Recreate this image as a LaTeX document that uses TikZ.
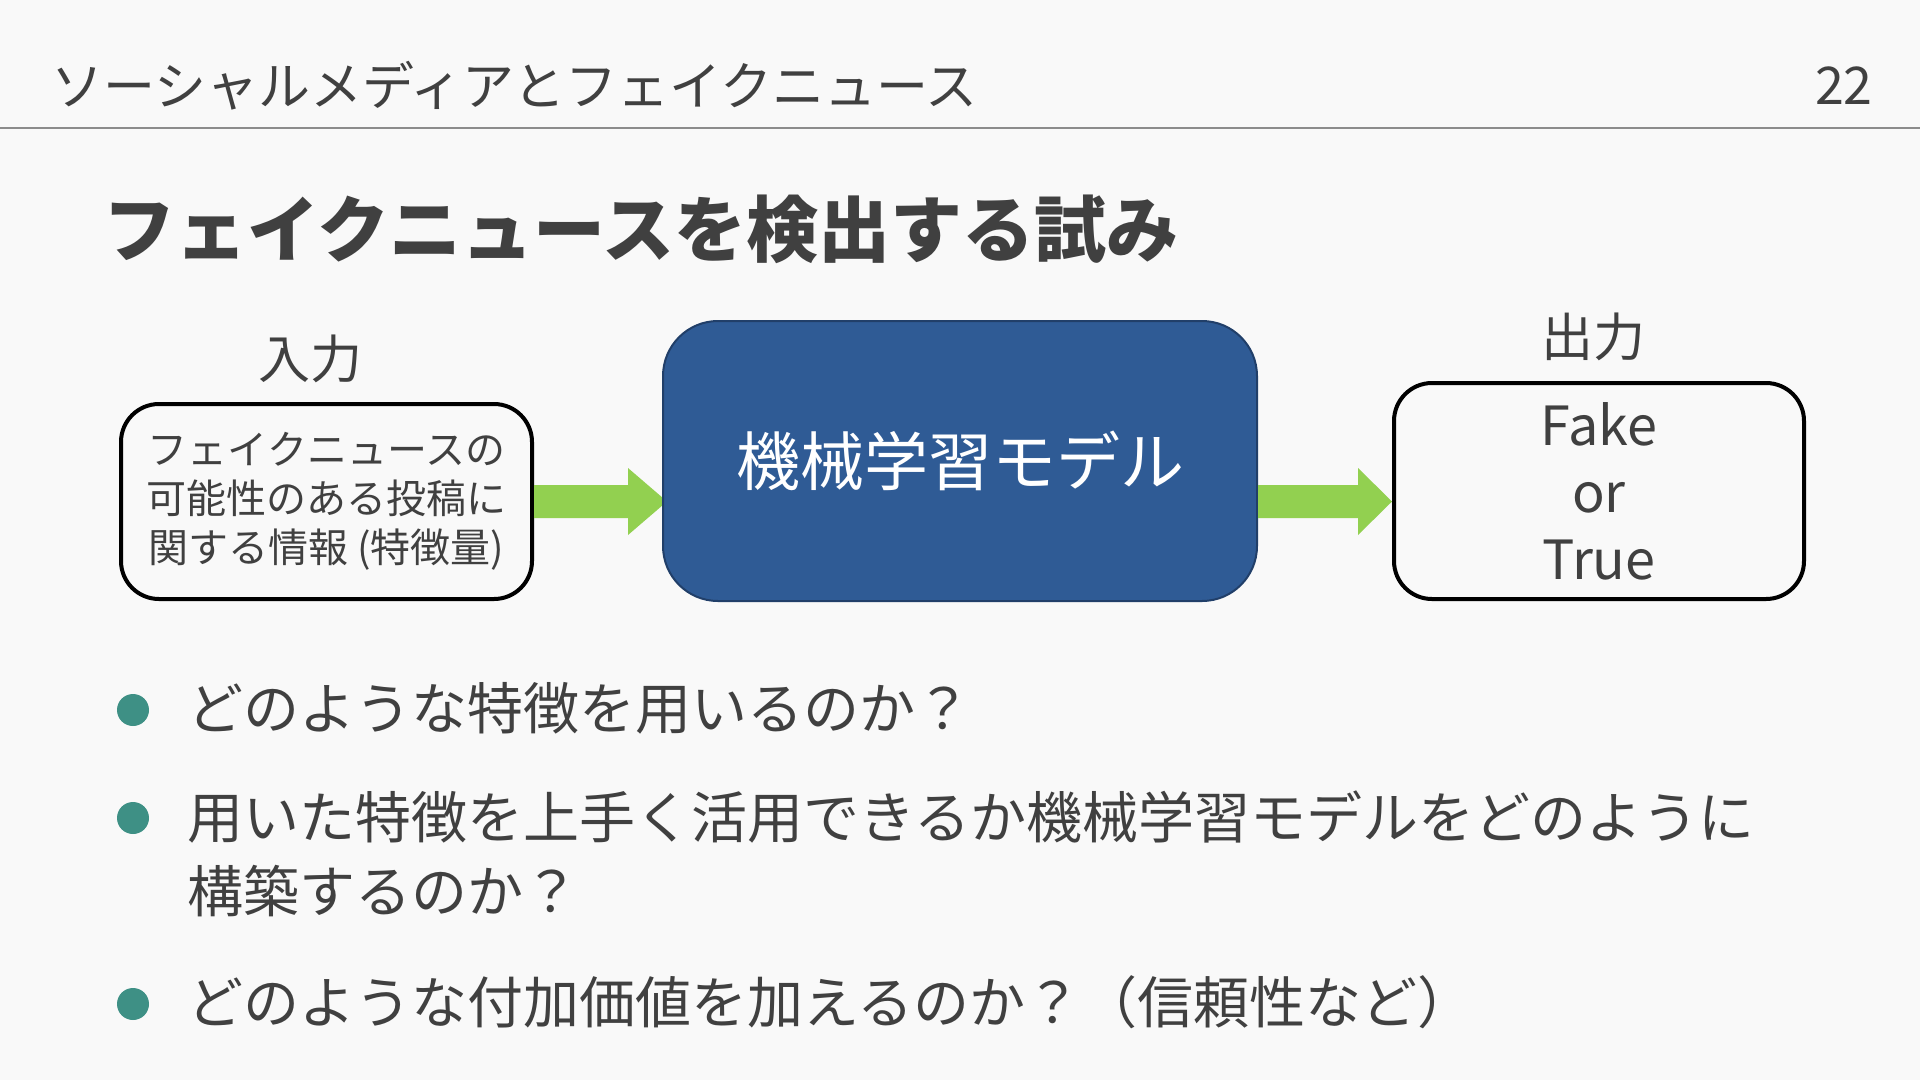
\documentclass[tikz,border=0pt]{standalone}
\usepackage{fontspec}
\setmainfont{Noto Sans CJK JP}
\usepackage{tikz}
\usetikzlibrary{calc}
\definecolor{bgcol}{HTML}{F9F9F9}
\definecolor{textgray}{HTML}{404040}
\definecolor{rulegray}{HTML}{8C8C8C}
\definecolor{modelblue}{HTML}{2F5B95}
\definecolor{modeledge}{HTML}{213F69}
\definecolor{flowgreen}{HTML}{92D050}
\definecolor{dotteal}{HTML}{3E9085}
\tikzset{
    header text/.style={anchor=west, inner sep=0pt, text=textgray, font=\fontsize{52pt}{62pt}\selectfont},
    title text/.style={anchor=west, inner sep=0pt, text=textgray, font=\bfseries\fontsize{72pt}{86pt}\selectfont},
    io label/.style={inner sep=0pt, text=textgray, font=\fontsize{52pt}{62pt}\selectfont},
    io box/.style={rectangle, draw=black, line width=4pt, rounded corners=38pt, inner sep=0pt, text=textgray, align=center},
    model box/.style={rectangle, draw=modeledge, fill=modelblue, line width=2pt, rounded corners=55pt, text=white, font=\fontsize{64pt}{76pt}\selectfont},
    flow/.style={fill=flowgreen},
    bullet dot/.style={circle, fill=dotteal, minimum size=32pt, inner sep=0pt},
    bullet text/.style={anchor=west, inner sep=0pt, align=left, text=textgray, font=\fontsize{56pt}{74pt}\selectfont}
}
\begin{document}
\begin{tikzpicture}[x=1pt, y=-1pt]
  \fill[bgcol] (0,0) rectangle (1920,1080);
  \useasboundingbox (0,0) rectangle (1920,1080);
  \node[header text] (head) at (51, 86) {ソーシャルメディアとフェイクニュース};
  \node[header text, anchor=east] (page) at (1873, 86) {22};
  \draw[rulegray, line width=2pt] (0,128) -- (1920,128);
  \node[title text] (title) at (103, 229) {フェイクニュースを検出する試み};
  \node[io label] (inlabel) at (310, 359) {入力};
  \node[io label] (outlabel) at (1593, 337) {出力};
  \node[io box, minimum width=411pt, minimum height=195pt, font=\fontsize{40pt}{49pt}\selectfont] (inbox) at (326.5, 501.5)
    {フェイクニュースの\\可能性のある投稿に\\関する情報 (特徴量)};
  \node[io box, minimum width=410pt, minimum height=216pt, font=\fontsize{54pt}{67pt}\selectfont] (outbox) at (1599, 491)
    {Fake\\or\\True};
  \fill[flow] let \p1=(inbox.east), \p2=(960,461) in
    (\x1,\y1+16.5pt) -- (\x2-300pt-32pt,\y1+16.5pt) -- (\x2-300pt-32pt,\y1+33.5pt) -- (\x2-293pt,\y1)
    -- (\x2-300pt-32pt,\y1-33.5pt) -- (\x2-300pt-32pt,\y1-16.5pt) -- (\x1,\y1-16.5pt) -- cycle;
  \node[model box, minimum width=594pt, minimum height=280pt] (model) at (960, 461) {機械学習モデル};
  \fill[flow] let \p1=(model.east |- inbox.east), \p2=(outbox.west) in
    (\x1,\y1+16.5pt) -- (\x2-34pt,\y1+16.5pt) -- (\x2-34pt,\y1+33.5pt) -- (\x2,\y1)
    -- (\x2-34pt,\y1-33.5pt) -- (\x2-34pt,\y1-16.5pt) -- (\x1,\y1-16.5pt) -- cycle;
  \node[bullet dot] (dot1) at (133, 710) {};
  \node[bullet dot] (dot2) at (133, 818) {};
  \node[bullet dot] (dot3) at (133, 1004) {};
  \node[bullet text] (item1) at (187, 708) {どのような特徴を用いるのか？};
  \node[bullet text] (item2) at (187, 854) {用いた特徴を上手く活用できるか機械学習モデルをどのように\\構築するのか？};
  \node[bullet text] (item3) at (187, 1002) {どのような付加価値を加えるのか？（信頼性など）};
\end{tikzpicture}
\end{document}
